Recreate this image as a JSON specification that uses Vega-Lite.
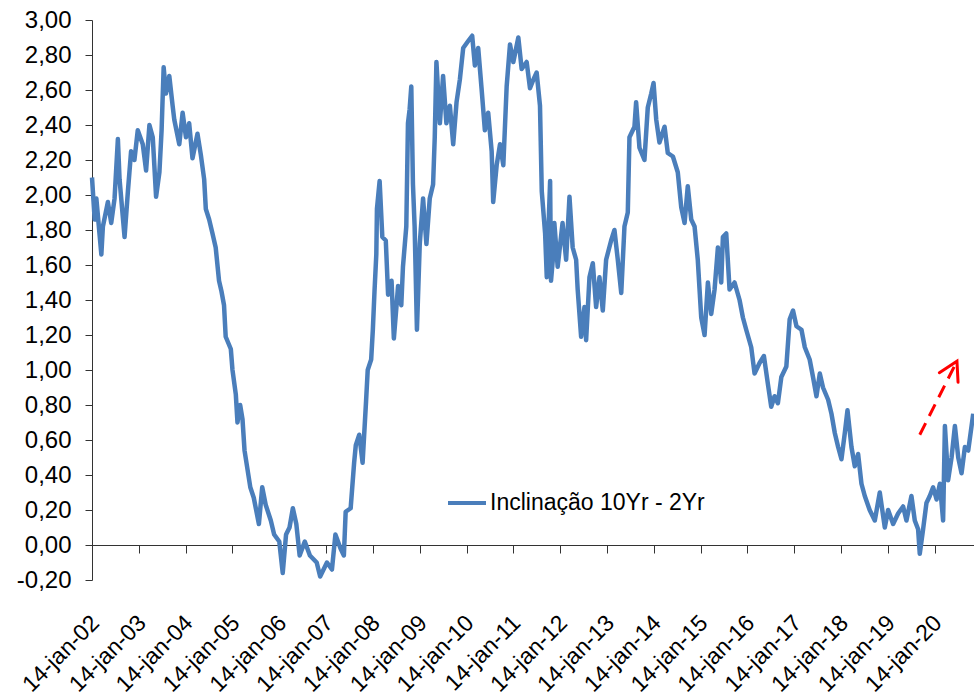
{
"$schema": "https://vega.github.io/schema/vega-lite/v6.json",
"width": 882, "height": 560,
"autosize": {"type": "none"},
"padding": {"left": 92, "top": 20, "right": 0, "bottom": 120},
"background": "white",
"config": {"view": {"stroke": null}, "font": "Liberation Sans"},
"datasets": {
"spread": [
{"data":"2002-01-14","valor":2.10},{"data":"2002-02-04","valor":1.86},{"data":"2002-02-17","valor":1.98},{"data":"2002-03-28","valor":1.66},{"data":"2002-04-09","valor":1.82},{"data":"2002-05-18","valor":1.96},{"data":"2002-06-13","valor":1.84},{"data":"2002-07-09","valor":1.98},{"data":"2002-08-04","valor":2.32},{"data":"2002-08-17","valor":2.09},{"data":"2002-09-25","valor":1.76},{"data":"2002-10-21","valor":2.02},{"data":"2002-11-15","valor":2.25},{"data":"2002-12-11","valor":2.20},
{"data":"2003-01-06","valor":2.37},{"data":"2003-02-14","valor":2.29},{"data":"2003-03-12","valor":2.14},{"data":"2003-04-07","valor":2.40},{"data":"2003-05-03","valor":2.33},{"data":"2003-05-29","valor":1.99},{"data":"2003-06-24","valor":2.13},{"data":"2003-07-11","valor":2.37},{"data":"2003-07-27","valor":2.73},{"data":"2003-08-14","valor":2.58},{"data":"2003-09-09","valor":2.68},{"data":"2003-10-05","valor":2.51},{"data":"2003-10-18","valor":2.43},{"data":"2003-11-26","valor":2.29},{"data":"2003-12-22","valor":2.47},
{"data":"2004-01-17","valor":2.33},{"data":"2004-02-11","valor":2.41},{"data":"2004-03-08","valor":2.21},{"data":"2004-04-16","valor":2.35},{"data":"2004-05-12","valor":2.23},{"data":"2004-06-07","valor":2.09},{"data":"2004-06-20","valor":1.92},{"data":"2004-07-16","valor":1.86},{"data":"2004-08-11","valor":1.78},{"data":"2004-09-05","valor":1.70},{"data":"2004-10-01","valor":1.51},{"data":"2004-10-20","valor":1.45},{"data":"2004-11-09","valor":1.37},{"data":"2004-11-22","valor":1.19},
{"data":"2005-01-01","valor":1.12},{"data":"2005-01-14","valor":1.00},{"data":"2005-02-09","valor":0.86},{"data":"2005-02-22","valor":0.70},{"data":"2005-03-15","valor":0.80},{"data":"2005-04-02","valor":0.72},{"data":"2005-04-18","valor":0.54},{"data":"2005-06-02","valor":0.33},{"data":"2005-06-29","valor":0.27},{"data":"2005-08-08","valor":0.12},{"data":"2005-09-03","valor":0.33},{"data":"2005-09-30","valor":0.23},{"data":"2005-11-09","valor":0.14},{"data":"2005-12-05","valor":0.06},
{"data":"2006-01-14","valor":0.02},{"data":"2006-02-10","valor":-0.16},{"data":"2006-03-08","valor":0.06},{"data":"2006-04-04","valor":0.10},{"data":"2006-04-30","valor":0.21},{"data":"2006-05-27","valor":0.12},{"data":"2006-06-22","valor":-0.06},{"data":"2006-08-01","valor":0.02},{"data":"2006-09-10","valor":-0.06},{"data":"2006-11-02","valor":-0.10},{"data":"2006-11-29","valor":-0.18},
{"data":"2007-01-21","valor":-0.10},{"data":"2007-03-01","valor":-0.14},{"data":"2007-03-28","valor":0.06},{"data":"2007-05-07","valor":-0.02},{"data":"2007-06-02","valor":-0.06},{"data":"2007-06-16","valor":0.19},{"data":"2007-07-25","valor":0.21},{"data":"2007-08-21","valor":0.47},{"data":"2007-09-03","valor":0.57},{"data":"2007-09-30","valor":0.63},{"data":"2007-10-26","valor":0.47},{"data":"2007-11-22","valor":0.82},{"data":"2007-12-05","valor":1.00},
{"data":"2008-01-01","valor":1.06},{"data":"2008-01-14","valor":1.23},{"data":"2008-01-27","valor":1.45},{"data":"2008-02-10","valor":1.66},{"data":"2008-02-15","valor":1.92},{"data":"2008-03-07","valor":2.08},{"data":"2008-03-28","valor":1.76},{"data":"2008-04-24","valor":1.74},{"data":"2008-05-12","valor":1.43},{"data":"2008-06-08","valor":1.51},{"data":"2008-06-26","valor":1.18},{"data":"2008-07-29","valor":1.48},{"data":"2008-08-23","valor":1.37},{"data":"2008-09-05","valor":1.59},{"data":"2008-10-01","valor":1.82},{"data":"2008-10-14","valor":2.41},{"data":"2008-10-27","valor":2.49},{"data":"2008-11-09","valor":2.62},{"data":"2008-11-22","valor":2.06},{"data":"2008-12-05","valor":1.82},{"data":"2008-12-23","valor":1.23},
{"data":"2009-01-14","valor":1.72},{"data":"2009-02-09","valor":1.98},{"data":"2009-03-07","valor":1.72},{"data":"2009-04-02","valor":1.98},{"data":"2009-04-28","valor":2.06},{"data":"2009-05-11","valor":2.33},{"data":"2009-05-24","valor":2.76},{"data":"2009-06-20","valor":2.41},{"data":"2009-07-15","valor":2.68},{"data":"2009-08-10","valor":2.41},{"data":"2009-09-06","valor":2.51},{"data":"2009-10-02","valor":2.29},{"data":"2009-10-28","valor":2.53},{"data":"2009-11-23","valor":2.66},{"data":"2009-12-19","valor":2.84},
{"data":"2010-01-27","valor":2.88},{"data":"2010-02-27","valor":2.91},{"data":"2010-03-20","valor":2.74},{"data":"2010-04-15","valor":2.84},{"data":"2010-05-11","valor":2.61},{"data":"2010-06-06","valor":2.37},{"data":"2010-07-02","valor":2.47},{"data":"2010-07-29","valor":2.25},{"data":"2010-08-10","valor":1.96},{"data":"2010-09-06","valor":2.17},{"data":"2010-10-02","valor":2.29},{"data":"2010-10-28","valor":2.17},{"data":"2010-11-23","valor":2.62},{"data":"2010-12-19","valor":2.86},
{"data":"2011-01-14","valor":2.76},{"data":"2011-02-22","valor":2.90},{"data":"2011-03-20","valor":2.72},{"data":"2011-04-28","valor":2.76},{"data":"2011-05-24","valor":2.61},{"data":"2011-06-20","valor":2.66},{"data":"2011-07-15","valor":2.70},{"data":"2011-08-10","valor":2.51},{"data":"2011-08-24","valor":2.02},{"data":"2011-09-19","valor":1.78},{"data":"2011-10-02","valor":1.53},{"data":"2011-10-28","valor":2.08},{"data":"2011-11-04","valor":1.51},{"data":"2011-11-18","valor":1.63},{"data":"2011-11-30","valor":1.84},{"data":"2011-12-26","valor":1.59},
{"data":"2012-02-02","valor":1.84},{"data":"2012-03-01","valor":1.63},{"data":"2012-03-27","valor":1.99},{"data":"2012-04-21","valor":1.70},{"data":"2012-05-18","valor":1.63},{"data":"2012-05-30","valor":1.46},{"data":"2012-06-26","valor":1.19},{"data":"2012-07-22","valor":1.36},{"data":"2012-08-04","valor":1.17},{"data":"2012-08-30","valor":1.53},{"data":"2012-09-25","valor":1.61},{"data":"2012-10-21","valor":1.36},{"data":"2012-11-16","valor":1.53},{"data":"2012-12-12","valor":1.34},
{"data":"2013-01-07","valor":1.63},{"data":"2013-02-15","valor":1.74},{"data":"2013-03-13","valor":1.80},{"data":"2013-04-08","valor":1.63},{"data":"2013-05-05","valor":1.44},{"data":"2013-05-30","valor":1.82},{"data":"2013-06-25","valor":1.90},{"data":"2013-07-08","valor":2.33},{"data":"2013-08-16","valor":2.39},{"data":"2013-08-29","valor":2.53},{"data":"2013-09-24","valor":2.27},{"data":"2013-11-02","valor":2.20},{"data":"2013-11-28","valor":2.50},{"data":"2013-12-25","valor":2.58},
{"data":"2014-01-12","valor":2.64},{"data":"2014-02-02","valor":2.43},{"data":"2014-02-27","valor":2.30},{"data":"2014-04-08","valor":2.39},{"data":"2014-05-03","valor":2.24},{"data":"2014-06-12","valor":2.22},{"data":"2014-07-20","valor":2.13},{"data":"2014-08-16","valor":1.93},{"data":"2014-09-11","valor":1.84},{"data":"2014-10-06","valor":2.05},{"data":"2014-11-02","valor":1.86},{"data":"2014-11-28","valor":1.82},{"data":"2014-12-23","valor":1.63},
{"data":"2015-01-19","valor":1.30},{"data":"2015-02-14","valor":1.20},{"data":"2015-03-12","valor":1.50},{"data":"2015-04-07","valor":1.32},{"data":"2015-05-03","valor":1.46},{"data":"2015-05-29","valor":1.70},{"data":"2015-06-24","valor":1.50},{"data":"2015-07-07","valor":1.76},{"data":"2015-08-02","valor":1.78},{"data":"2015-08-28","valor":1.46},{"data":"2015-10-06","valor":1.50},{"data":"2015-11-14","valor":1.40},{"data":"2015-12-10","valor":1.30},
{"data":"2016-01-05","valor":1.23},{"data":"2016-02-13","valor":1.13},{"data":"2016-03-10","valor":0.98},{"data":"2016-04-18","valor":1.04},{"data":"2016-05-22","valor":1.08},{"data":"2016-06-22","valor":0.92},{"data":"2016-07-18","valor":0.79},{"data":"2016-08-13","valor":0.85},{"data":"2016-09-08","valor":0.81},{"data":"2016-10-05","valor":0.96},{"data":"2016-11-13","valor":1.02},{"data":"2016-12-09","valor":1.29},
{"data":"2017-01-04","valor":1.34},{"data":"2017-01-31","valor":1.25},{"data":"2017-03-11","valor":1.23},{"data":"2017-04-06","valor":1.13},{"data":"2017-05-14","valor":1.06},{"data":"2017-06-09","valor":0.96},{"data":"2017-07-06","valor":0.85},{"data":"2017-08-01","valor":0.98},{"data":"2017-08-26","valor":0.90},{"data":"2017-10-05","valor":0.83},{"data":"2017-10-31","valor":0.75},{"data":"2017-11-26","valor":0.64},{"data":"2017-12-22","valor":0.56},
{"data":"2018-01-17","valor":0.49},{"data":"2018-02-12","valor":0.64},{"data":"2018-03-05","valor":0.77},{"data":"2018-04-05","valor":0.56},{"data":"2018-05-01","valor":0.45},{"data":"2018-05-27","valor":0.52},{"data":"2018-06-22","valor":0.35},{"data":"2018-07-18","valor":0.28},{"data":"2018-08-25","valor":0.20},{"data":"2018-10-04","valor":0.14},{"data":"2018-11-12","valor":0.30},{"data":"2018-12-21","valor":0.10},
{"data":"2019-01-16","valor":0.20},{"data":"2019-02-24","valor":0.12},{"data":"2019-04-04","valor":0.18},{"data":"2019-05-13","valor":0.22},{"data":"2019-06-08","valor":0.14},{"data":"2019-07-17","valor":0.28},{"data":"2019-08-12","valor":0.14},{"data":"2019-09-07","valor":0.09},{"data":"2019-09-20","valor":-0.05},{"data":"2019-10-16","valor":0.09},{"data":"2019-11-11","valor":0.24},{"data":"2019-12-07","valor":0.28},
{"data":"2020-01-02","valor":0.33},{"data":"2020-01-29","valor":0.26},{"data":"2020-02-24","valor":0.35},{"data":"2020-03-20","valor":0.14},{"data":"2020-04-03","valor":0.68},{"data":"2020-04-28","valor":0.37},{"data":"2020-05-25","valor":0.50},{"data":"2020-06-20","valor":0.68},{"data":"2020-07-16","valor":0.50},{"data":"2020-08-11","valor":0.41},{"data":"2020-09-06","valor":0.56},{"data":"2020-10-02","valor":0.54},{"data":"2020-11-10","valor":0.75}
],
"seta": [{"inicio":"2019-09-20","v0":0.63,"fim":"2020-07-06","v1":1.05}]
},
"layer": [
{
"data": {"name": "spread"},
"mark": {"type": "line", "strokeWidth": 4.5, "strokeJoin": "round"},
"encoding": {
"x": {"field": "data", "type": "temporal",
"scale": {"domain": [{"year":2002,"month":1,"date":14,"utc":true},{"year":2020,"month":11,"date":16,"utc":true}]},
"axis": {"orient": "bottom", "offset": -35, "labels": false, "title": null, "grid": false, "domainColor": "#333333", "domainWidth": 1, "tickColor": "#333333", "tickSize": 8, "tickWidth": 1,
"values": [{"year":2002,"month":1,"date":14,"utc":true},{"year":2003,"month":1,"date":14,"utc":true},{"year":2004,"month":1,"date":14,"utc":true},{"year":2005,"month":1,"date":14,"utc":true},{"year":2006,"month":1,"date":14,"utc":true},{"year":2007,"month":1,"date":14,"utc":true},{"year":2008,"month":1,"date":14,"utc":true},{"year":2009,"month":1,"date":14,"utc":true},{"year":2010,"month":1,"date":14,"utc":true},{"year":2011,"month":1,"date":14,"utc":true},{"year":2012,"month":1,"date":14,"utc":true},{"year":2013,"month":1,"date":14,"utc":true},{"year":2014,"month":1,"date":14,"utc":true},{"year":2015,"month":1,"date":14,"utc":true},{"year":2016,"month":1,"date":14,"utc":true},{"year":2017,"month":1,"date":14,"utc":true},{"year":2018,"month":1,"date":14,"utc":true},{"year":2019,"month":1,"date":14,"utc":true},{"year":2020,"month":1,"date":14,"utc":true}]}},
"y": {"field": "valor", "type": "quantitative",
"scale": {"domain": [-0.2, 3.0], "zero": false, "nice": false},
"axis": {"orient": "left", "title": null, "grid": false, "values": [-0.2,0,0.2,0.4,0.6,0.8,1.0,1.2,1.4,1.6,1.8,2.0,2.2,2.4,2.6,2.8,3.0],
"labelExpr": "(datum.value < 0 ? '-' : '') + replace(format(abs(datum.value), '.2f'), '.', ',')",
"domainColor": "#333333", "tickColor": "#333333", "tickSize": 7, "labelPadding": 14, "labelFontSize": 24, "labelColor": "#000000", "labelFont": "Liberation Sans"}},
"color": {"datum": "Inclinação 10Yr - 2Yr", "scale": {"range": ["#4a7ebb"]},
"legend": {"title": null, "orient": "none", "legendX": 354, "legendY": 462, "symbolType": "stroke", "symbolSize": 1444, "symbolStrokeWidth": 4, "labelFontSize": 23, "labelColor": "#000000", "labelFont": "Liberation Sans", "labelOffset": 2, "labelLimit": 400, "padding": 0}}
}
},
{
"data": {"name": "seta"},
"mark": {"type": "rule", "color": "#ff0000", "strokeWidth": 3, "strokeDash": [13, 8]},
"encoding": {
"x": {"field": "inicio", "type": "temporal",
"scale": {"domain": [{"year":2002,"month":1,"date":14,"utc":true},{"year":2020,"month":11,"date":16,"utc":true}]},
"axis": {"orient": "bottom", "domain": false, "ticks": false, "tickSize": 0, "grid": false, "title": null, "labelAngle": -45, "labelAlign": "right", "labelBaseline": "middle", "labelPadding": 39, "labelOffset": 3, "labelFontSize": 23, "labelColor": "#000000", "labelFont": "Liberation Sans", "labelFlush": false, "labelOverlap": false, "labelBound": false,
"labelExpr": "'14-jan-' + utcFormat(datum.value, '%y')",
"values": [{"year":2002,"month":1,"date":14,"utc":true},{"year":2003,"month":1,"date":14,"utc":true},{"year":2004,"month":1,"date":14,"utc":true},{"year":2005,"month":1,"date":14,"utc":true},{"year":2006,"month":1,"date":14,"utc":true},{"year":2007,"month":1,"date":14,"utc":true},{"year":2008,"month":1,"date":14,"utc":true},{"year":2009,"month":1,"date":14,"utc":true},{"year":2010,"month":1,"date":14,"utc":true},{"year":2011,"month":1,"date":14,"utc":true},{"year":2012,"month":1,"date":14,"utc":true},{"year":2013,"month":1,"date":14,"utc":true},{"year":2014,"month":1,"date":14,"utc":true},{"year":2015,"month":1,"date":14,"utc":true},{"year":2016,"month":1,"date":14,"utc":true},{"year":2017,"month":1,"date":14,"utc":true},{"year":2018,"month":1,"date":14,"utc":true},{"year":2019,"month":1,"date":14,"utc":true},{"year":2020,"month":1,"date":14,"utc":true}]}},
"x2": {"field": "fim"},
"y": {"field": "v0", "type": "quantitative", "scale": {"domain": [-0.2, 3.0], "zero": false, "nice": false}, "axis": null},
"y2": {"field": "v1"}
}
},
{
"data": {"name": "seta"},
"mark": {"type": "point", "shape": "M -1 1.732 L 0 0 L 1 1.732", "filled": false, "stroke": "#ff0000", "strokeWidth": 3, "size": 441, "angle": 27, "opacity": 1, "strokeCap": "round"},
"encoding": {
"x": {"field": "fim", "type": "temporal", "scale": {"domain": [{"year":2002,"month":1,"date":14,"utc":true},{"year":2020,"month":11,"date":16,"utc":true}]}, "axis": null},
"y": {"field": "v1", "type": "quantitative", "scale": {"domain": [-0.2, 3.0], "zero": false, "nice": false}, "axis": null}
}
}
],
"resolve": {"axis": {"x": "independent", "y": "independent"}}
}
